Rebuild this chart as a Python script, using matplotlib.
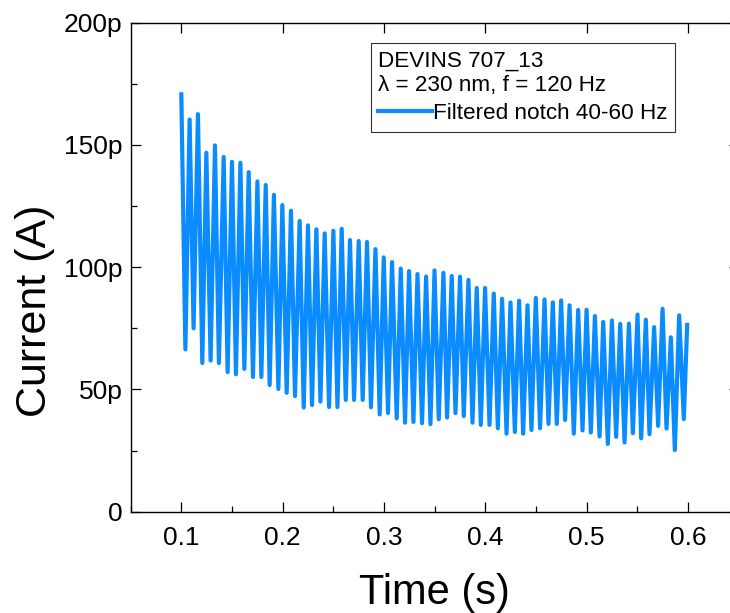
import numpy as np
import matplotlib
matplotlib.use("Agg")
import matplotlib.pyplot as plt
from matplotlib.ticker import FixedLocator, FixedFormatter, MultipleLocator

plt.rcParams["font.family"] = ["Liberation Sans", "DejaVu Sans"]

# peaks and troughs of the filtered signal (time in s, current in pA)
peak_t = [0.1000, 0.1082, 0.1164, 0.1247, 0.1332, 0.1418, 0.1500, 0.1583, 0.1665, 0.1751,
          0.1833, 0.1914, 0.1997, 0.2082, 0.2168, 0.2250, 0.2333, 0.2415, 0.2501, 0.2583,
          0.2665, 0.2751, 0.2833, 0.2916, 0.2998, 0.3080, 0.3166, 0.3248, 0.3331, 0.3416,
          0.3499, 0.3587, 0.3669, 0.3751, 0.3834, 0.3916, 0.3998, 0.4084, 0.4166, 0.4249,
          0.4334, 0.4417, 0.4499, 0.4585, 0.4667, 0.4749, 0.4832, 0.4917, 0.5000, 0.5082,
          0.5164, 0.5250, 0.5332, 0.5418, 0.5503, 0.5585, 0.5667, 0.5750, 0.5832, 0.5914,
          0.5993]
peak_i = [170.7, 160.4, 162.6, 146.8, 149.8, 145.1, 143.1, 142.7, 138.9, 135.1,
          133.6, 129.6, 125.4, 123.1, 118.9, 117.1, 115.5, 113.8, 114.9, 115.7,
          111.1, 110.7, 110.3, 107.4, 104.0, 102.1, 99.4, 98.4, 97.2, 96.2,
          98.7, 97.7, 96.4, 96.1, 94.8, 91.5, 91.5, 89.2, 87.1, 85.6,
          86.3, 84.4, 87.4, 86.8, 85.6, 86.4, 84.4, 82.5, 82.6, 80.0,
          77.6, 78.2, 76.8, 76.9, 80.6, 78.5, 75.5, 83.0, 71.3, 80.3,
          76.4]
trough_t = [0.1040, 0.1121, 0.1207, 0.1289, 0.1371, 0.1457, 0.1539, 0.1622, 0.1707, 0.1790,
            0.1872, 0.1958, 0.2040, 0.2122, 0.2208, 0.2290, 0.2373, 0.2458, 0.2541, 0.2623,
            0.2705, 0.2790, 0.2872, 0.2958, 0.3040, 0.3126, 0.3208, 0.3291, 0.3376, 0.3459,
            0.3541, 0.3623, 0.3706, 0.3788, 0.3874, 0.3956, 0.4042, 0.4124, 0.4210, 0.4292,
            0.4374, 0.4456, 0.4541, 0.4624, 0.4706, 0.4788, 0.4874, 0.4960, 0.5042, 0.5128,
            0.5210, 0.5292, 0.5375, 0.5457, 0.5539, 0.5621, 0.5706, 0.5789, 0.5871, 0.5960]
trough_i = [66.4, 75.0, 60.8, 61.8, 60.8, 57.1, 56.2, 58.4, 55.1, 55.1,
            51.8, 50.2, 48.6, 47.3, 42.6, 43.6, 45.0, 42.8, 42.8, 45.7,
            45.7, 45.7, 42.7, 39.8, 40.4, 38.2, 36.4, 36.7, 36.2, 35.8,
            37.8, 38.5, 40.3, 39.1, 36.4, 35.5, 35.5, 34.1, 31.9, 32.6,
            31.9, 33.4, 34.1, 35.9, 35.9, 37.5, 31.9, 33.2, 32.4, 30.8,
            27.7, 30.6, 28.3, 32.1, 30.0, 31.7, 35.1, 34.0, 25.2, 37.9]

x_ticks = [0.1, 0.2, 0.3, 0.4, 0.5, 0.6]
y_ticks = [0, 50, 100, 150, 200]
y_tick_labels = ["0", "50p", "100p", "150p", "200p"]

t = np.empty(len(peak_t) + len(trough_t))
cur = np.empty_like(t)
t[0::2], t[1::2] = peak_t, trough_t
cur[0::2], cur[1::2] = peak_i, trough_i

fig = plt.figure(figsize=(7.3, 6.13), dpi=100)
ax = fig.add_axes([0.179, 0.1653, 0.8327, 0.7977])

ax.plot(t, cur, color="#0a8cff", lw=3.0, solid_joinstyle="round",
        label="Filtered notch 40-60 Hz")

ax.set_xlim(0.05, 0.65)
ax.set_ylim(0, 200)
ax.xaxis.set_major_locator(FixedLocator(x_ticks))
ax.xaxis.set_minor_locator(MultipleLocator(0.05))
ax.yaxis.set_major_locator(FixedLocator(y_ticks))
ax.yaxis.set_major_formatter(FixedFormatter(y_tick_labels))
ax.yaxis.set_minor_locator(MultipleLocator(25))

for s in ax.spines.values():
    s.set_linewidth(1.0)
ax.tick_params(which="both", direction="in", top=True, right=True, width=0.9)
ax.tick_params(which="major", length=7)
ax.tick_params(which="minor", length=4)
ax.tick_params(axis="x", which="minor", top=False)
ax.tick_params(axis="x", labelsize=19, pad=10)
ax.tick_params(axis="y", labelsize=19, pad=6)

ax.set_xlabel("Time (s)", fontsize=30)
ax.set_ylabel("Current (A)", fontsize=31)
ax.xaxis.set_label_coords(0.5, -0.125)
ax.yaxis.set_label_coords(-0.125, 0.41)

leg = ax.legend(title="DEVINS 707_13\nλ = 230 nm, f = 120 Hz", loc="upper left",
                bbox_to_anchor=(0.395, 0.958), borderaxespad=0, fontsize=16.2,
                title_fontsize=16.2, alignment="left", fancybox=False,
                edgecolor="#333333", framealpha=1, handlelength=2.4,
                handletextpad=0.05, borderpad=0.33, labelspacing=0.32)
leg.get_frame().set_linewidth(0.8)
leg.get_title().set_linespacing(1.22)

fig.savefig("out.png", dpi=100)
